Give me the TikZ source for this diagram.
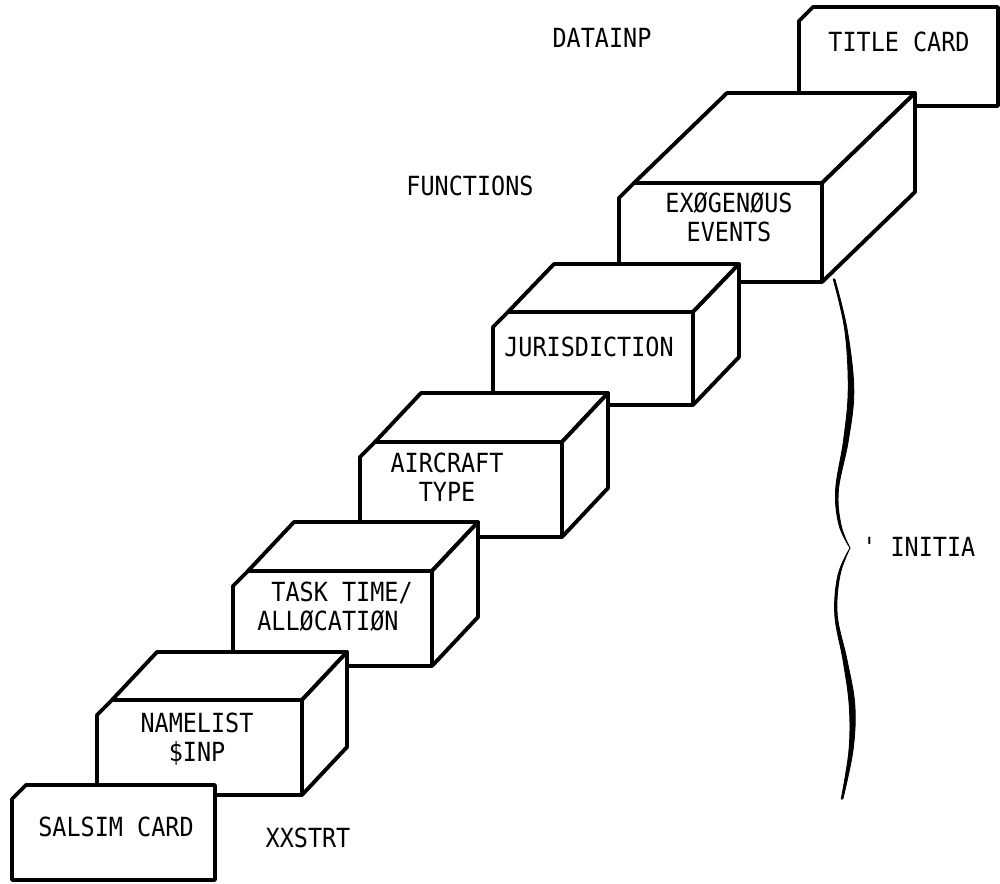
\documentclass[tikz,border=0pt]{standalone}
\usepackage{fontspec}
\newfontfamily\printfont[FakeStretch=0.89]{DejaVu Sans Mono}

\begin{document}
\begin{tikzpicture}[
    x=0.02cm, y=-0.02cm,
    face/.style={draw, fill=white, line width=2.2pt, line join=round},
    printed/.style={font=\printfont\fontsize{15}{16.5}\selectfont, inner sep=0pt, align=center},
    brace ink/.style={fill=black, draw=black, line width=0.5pt, line join=round},
    pics/card/.style args={#1/#2}{code={
        \draw[face] (0,14) -- (14,0) -- (#1,0) -- (#1,#2) -- (0,#2) -- cycle;
    }},
    pics/crate/.style args={#1/#2/#3/#4}{code={
        \draw[face] (0,15) -- (15,0) -- (#1,0) -- (#1,#2) -- (0,#2) -- cycle;
        \draw[face] (15,0) -- ++(#3,-#4) -- ++(#1-15,0) -- (#1,0) -- cycle;
        \draw[face] (#1,0) -- ++(#3,-#4) -- ++(0,#2) -- (#1,#2) -- cycle;
    }}
]
\useasboundingbox (0,0) rectangle (1000,884);

% cards and boxes, back to front
\pic (titlecard) at (799,7) {card=199/99};
\pic (exo) at (619,183) {crate=203/99/93/90};
\pic (juris) at (493,312) {crate=200/93/46/48};
\pic (aircraft) at (360,442) {crate=202/95/46/49};
\pic (tasktime) at (233,571) {crate=199/95/46/49};
\pic (namelist) at (97,700) {crate=205/95/45/48};
\pic (salsim) at (12,785) {card=203/95};

% texts
\node [printed] (titletext) at (899,42) {TITLE CARD};
\node [printed] (exotext) at (729,217) {EXØGENØUS\\EVENTS};
\node [printed] (juristext) at (589,347) {JURISDICTION};
\node [printed] (aircrafttext) at (447,477) {AIRCRAFT\\TYPE};
\node [printed, align=left] (tasktext) at (335,607) {~TASK TIME/\\ALLØCATIØN};
\node [printed] (namelisttext) at (197,739) {NAMELIST\\\$INP};
\node [printed] (salsimtext) at (116,827) {SALSIM CARD};

\node [printed] (datainp) at (602,38) {DATAINP};
\node [printed] (functions) at (470,186) {FUNCTIONS};
\node [printed] (xxstrt) at (308,838) {XXSTRT};

% brace, drawn by hand so thicker in the middle
\coordinate (bracetip) at (850,548);
\filldraw [brace ink] plot [smooth, tension=0.6] coordinates {(833.2,279) (844.8,330) (848.2,390) (843.6,440) (835.6,490) (839,525) (bracetip)}
    -- plot [smooth, tension=0.6] coordinates {(bracetip) (841,525) (838.4,490) (848.4,440) (853.8,390) (847.2,330) (834.8,279)} -- cycle;
\filldraw [brace ink] plot [smooth, tension=0.6] coordinates {(bracetip) (838,575) (834.8,615) (843,660) (849.2,705) (849,750) (841.2,799)}
    -- plot [smooth, tension=0.6] coordinates {(842.8,799) (853,750) (854.8,705) (847,660) (837.2,615) (840,575) (bracetip)} -- cycle;
\node [printed, anchor=west] (initia) at (862,547) {' INITIA};

\end{tikzpicture}
\end{document}
